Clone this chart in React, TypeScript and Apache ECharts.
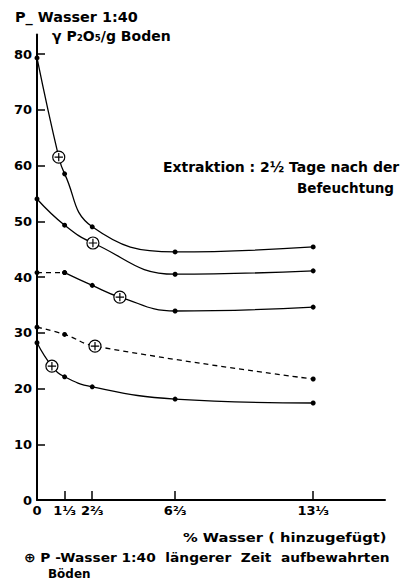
import React, { useEffect, useRef } from "react";
import * as echarts from "echarts";

const xTickValues = [1.333, 2.667, 6.667, 13.333];
const xLabelValues = [0, 1.333, 2.667, 6.667, 13.333];
const xLabelTexts = ["0", "1⅓", "2⅔", "6⅔", "13⅓"];
const yLabelValues = [0, 10, 20, 30, 40, 50, 60, 70, 80];

// [x, y, isCirclePlus]
const curveA: [number, number, number][] = [
  [0, 79.3, 0], [1.05, 61.5, 1], [1.333, 58.5, 0], [2.667, 49, 0], [6.667, 44.5, 0], [13.333, 45.4, 0],
];
const curveB: [number, number, number][] = [
  [0, 54, 0], [1.333, 49.3, 0], [2.7, 46.1, 1], [6.667, 40.5, 0], [13.333, 41.1, 0],
];
const curveCDashed: [number, number, number][] = [
  [0, 40.8, 0], [1.333, 40.8, 0],
];
const curveC: [number, number, number][] = [
  [1.333, 40.8, 0], [2.667, 38.5, 0], [4.0, 36.4, 1], [6.667, 33.9, 0], [13.333, 34.6, 0],
];
const curveD: [number, number, number][] = [
  [0, 31, 0], [1.333, 29.7, 0], [2.8, 27.6, 1], [13.333, 21.7, 0],
];
const curveE: [number, number, number][] = [
  [0, 28.2, 0], [0.72, 24, 1], [1.333, 22.1, 0], [2.667, 20.3, 0], [6.667, 18.1, 0], [13.333, 17.4, 0],
];

const circlePlus =
  "path://M0,10 A10,10 0 1 1 20,10 A10,10 0 1 1 0,10 Z M10,3 L10,17 M3,10 L17,10";

const FONT = "'DejaVu Sans', sans-serif";

function toData(c: [number, number, number][]) {
  return c.map(([x, y, p]) =>
    p
      ? {
          value: [x, y],
          symbol: circlePlus,
          symbolSize: 12,
          itemStyle: { color: "#fff", borderColor: "#000", borderWidth: 1.2 },
        }
      : { value: [x, y] }
  );
}

function lineSeries(c: [number, number, number][], dashed: boolean) {
  return {
    type: "line",
    data: toData(c),
    smooth: 0.45,
    symbol: "circle",
    symbolSize: 5,
    showSymbol: true,
    itemStyle: { color: "#000" },
    lineStyle: { color: "#000", width: 1.3, type: dashed ? [5, 4] : "solid" },
    z: 3,
  };
}

function label(text: string, x: number, y: number, size: number, scaleX: number) {
  return {
    type: "text",
    x,
    y,
    scaleX,
    style: { text, font: `bold ${size}px ${FONT}`, fill: "#000", verticalAlign: "top", align: "left" },
  };
}

export default function App() {
  const ref = useRef<HTMLDivElement>(null);
  useEffect(() => {
    document.body.style.margin = "0";
    const chart = echarts.init(ref.current!, null, { renderer: "svg" });
    chart.setOption({
      animation: false,
      backgroundColor: "#fff",
      textStyle: { fontFamily: FONT },
      grid: { left: 37, right: 21, top: 34.5, bottom: 88 },
      xAxis: {
        type: "value",
        min: 0,
        max: 16.8,
        splitLine: { show: false },
        axisLine: { lineStyle: { color: "#000", width: 2 } },
        axisTick: {
          show: true,
          inside: true,
          length: 9,
          customValues: xTickValues,
          lineStyle: { color: "#000", width: 1.5 },
        },
        axisLabel: {
          customValues: xLabelValues,
          margin: 4,
          color: "#000",
          fontSize: 13,
          fontWeight: "bold",
          fontFamily: FONT,
          formatter: (v: number) => {
            let best = 0;
            xLabelValues.forEach((x, i) => {
              if (Math.abs(x - v) < Math.abs(xLabelValues[best] - v)) best = i;
            });
            return xLabelTexts[best];
          },
        },
      },
      yAxis: {
        type: "value",
        min: 0,
        max: 83.5,
        splitLine: { show: false },
        axisLine: { show: true, lineStyle: { color: "#000", width: 2 } },
        axisTick: {
          show: true,
          inside: true,
          length: 8,
          customValues: yLabelValues.slice(1),
          lineStyle: { color: "#000", width: 1.5 },
        },
        axisLabel: {
          customValues: yLabelValues,
          margin: 5,
          color: "#000",
          fontSize: 13,
          fontWeight: "bold",
          fontFamily: FONT,
        },
      },
      series: [
        lineSeries(curveA, false),
        lineSeries(curveB, false),
        lineSeries(curveCDashed, true),
        lineSeries(curveC, false),
        lineSeries(curveD, true),
        lineSeries(curveE, false),
      ],
      graphic: [
        label("P_ Wasser 1:40", 15, 10.5, 14, 1.03),
        label("γ P₂O₅/g Boden", 52, 28.5, 14, 1.0),
        label("Extraktion : 2½ Tage nach der", 163, 160.5, 13.5, 1.035),
        label("Befeuchtung", 297, 180.5, 13.5, 1.0),
        label("% Wasser ( hinzugefügt)", 183, 531, 13, 1.13),
        label("⊕ P -Wasser 1:40  längerer  Zeit  aufbewahrten", 24, 551.5, 13, 1.06),
        label("Böden", 48, 567, 13, 0.92),
      ],
    });
    return () => chart.dispose();
  }, []);
  return <div ref={ref} style={{ width: 406, height: 588 }} />;
}
